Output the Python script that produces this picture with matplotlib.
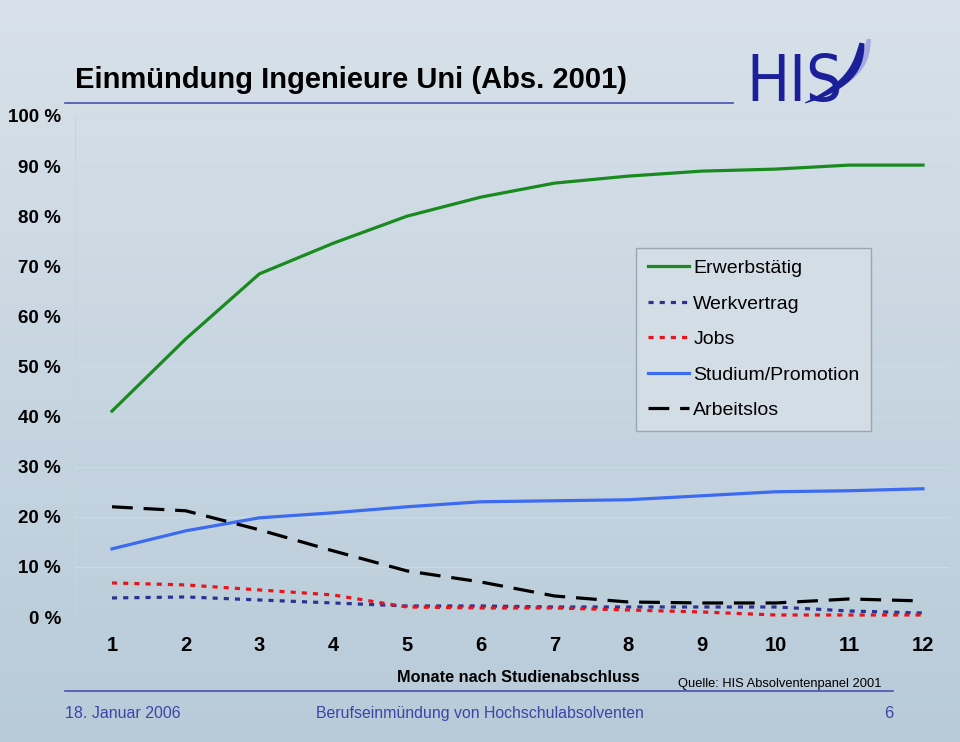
import numpy as np
import matplotlib.pyplot as plt
from matplotlib.lines import Line2D
from matplotlib.patches import Polygon

# data (percent of graduates)
months = np.arange(1, 13)
erwerbstaetig = [41.1, 55.5, 68.5, 74.6, 80.0, 83.8, 86.6, 88.0, 89.0, 89.4, 90.2, 90.2]
werkvertrag = [3.8, 4.0, 3.4, 2.8, 2.2, 2.2, 2.0, 2.0, 2.0, 2.0, 1.2, 0.8]
jobs = [6.8, 6.4, 5.4, 4.4, 2.0, 1.8, 1.8, 1.4, 1.0, 0.4, 0.4, 0.4]
studium = [13.6, 17.2, 19.8, 20.8, 22.0, 23.0, 23.2, 23.4, 24.2, 25.0, 25.2, 25.6]
arbeitslos = [22.0, 21.2, 17.4, 13.2, 9.2, 7.0, 4.2, 3.0, 2.8, 2.8, 3.6, 3.2]
yticks = list(range(0, 101, 10))

REG = ['Liberation Sans', 'DejaVu Sans']
FOOT = '#3d44a8'
W, H = 960, 742

fig = plt.figure(figsize=(9.6, 7.42), dpi=100)

# background gradient
bg = fig.add_axes([0, 0, 1, 1], zorder=-10)
top = np.array([216, 225, 233]) / 255
bot = np.array([184, 203, 217]) / 255
t = np.linspace(0, 1, 256)[:, None]
grad = (top * (1 - t) + bot * t)[:, None, :]
bg.imshow(grad, aspect='auto', extent=[0, 1, 0, 1])
bg.axis('off')

ax = fig.add_axes([75 / W, (H - 617) / H, 875 / W, 501 / H])
ax.set_facecolor('none')
ax.set_xlim(1 - 37 / 73.73, 12 + 27 / 73.73)
ax.set_ylim(0, 100)
for s in ax.spines.values():
    s.set_visible(False)
ax.axvline(ax.get_xlim()[0], color='#c8d3dc', lw=0.8, zorder=0)
for v in yticks:
    ax.axhline(v, color='#d0dae2', lw=0.7, zorder=0)

lw = 2.3
ax.plot(months, erwerbstaetig, color='#188a1e', lw=lw, label='Erwerbstätig', clip_on=False)
ax.plot(months, werkvertrag, color='#2e3192', lw=lw, ls=(0, (1.6, 1.9)),
        dash_capstyle='butt', label='Werkvertrag', clip_on=False)
ax.plot(months, jobs, color='#e8141c', lw=lw, ls=(0, (1.6, 1.9)),
        dash_capstyle='butt', label='Jobs', clip_on=False)
ax.plot(months, studium, color='#3b6bf0', lw=lw, label='Studium/Promotion', clip_on=False)
ax.plot(months, arbeitslos, color='black', lw=lw, ls=(0, (6.5, 3.4)),
        label='Arbeitslos', clip_on=False)

ax.set_yticks(yticks)
ax.set_yticklabels([f'{v} %' for v in yticks], family=REG, fontsize=13.5, fontweight='bold')
ax.set_xticks(months)
ax.set_xticklabels([str(m) for m in months], family=REG, fontsize=14.5, fontweight='bold')
ax.tick_params(axis='both', length=0)
ax.tick_params(axis='y', pad=10)
ax.tick_params(axis='x', pad=14)

leg = ax.legend(loc='upper left', bbox_to_anchor=((636 - 75) / 875, (617 - 248) / 501),
                prop={'family': REG, 'size': 14}, frameon=True, fancybox=False,
                handlelength=2.1, handletextpad=0.25, labelspacing=0.92,
                borderpad=0.6, borderaxespad=0)
leg.get_frame().set_facecolor('#d3dde5')
leg.get_frame().set_edgecolor('#9aa6b0')
leg.get_frame().set_alpha(1)

# header
fig.text(75 / W, 1 - 88 / H, 'Einmündung Ingenieure Uni (Abs. 2001)',
         family=REG, fontsize=21, fontweight='bold', va='baseline')
fig.add_artist(Line2D([65 / W, 733 / W], [1 - 103 / H] * 2, color='#4850b0', lw=1.2))
fig.text(746 / W, 1 - 101 / H, 'HIS', family='DejaVu Sans', fontstretch='condensed',
         fontsize=46, color='#1b1f9a', va='baseline')


# tapered swoosh of the logo, drawn in pixel coordinates
def swoosh(x0, y0, width, color, alpha=1.0):
    th = np.linspace(0, 1, 80)
    sx = x0 - 10 * th - 47 * th ** 3
    sy = y0 + 60 * th
    dx, dy = np.gradient(sx), np.gradient(sy)
    n = np.hypot(dx, dy)
    nx, ny = -dy / n, dx / n
    half = width * np.sin(np.pi * (0.15 + 0.85 * th)) ** 0.8 + 0.4
    left = np.column_stack([sx + nx * half, sy + ny * half])
    right = np.column_stack([sx - nx * half, sy - ny * half])
    pts = np.vstack([left, right[::-1]])
    pts = np.column_stack([pts[:, 0] / W, 1 - pts[:, 1] / H])
    fig.add_artist(Polygon(pts, closed=True, facecolor=color, edgecolor='none', alpha=alpha))


swoosh(869, 39, 3.0, '#9a9ee0', 0.8)
swoosh(862, 43, 4.0, '#1b1f9a')

# footer
fig.text(518 / W, 1 - 682 / H, 'Monate nach Studienabschluss', family=REG,
         fontsize=11.7, fontweight='bold', ha='center', va='baseline')
fig.text(780 / W, 1 - 687 / H, 'Quelle: HIS Absolventenpanel 2001', family=REG,
         fontsize=9.3, ha='center', va='baseline')
fig.add_artist(Line2D([65 / W, 893 / W], [1 - 691 / H] * 2, color='#4850b0', lw=1.2))
fig.text(65 / W, 1 - 718 / H, '18. Januar 2006', family=REG, fontsize=11.5,
         color=FOOT, va='baseline')
fig.text(480 / W, 1 - 718 / H, 'Berufseinmündung von Hochschulabsolventen',
         family=REG, fontsize=11.4, color=FOOT, ha='center', va='baseline')
fig.text(893 / W, 1 - 718 / H, '6', family=REG, fontsize=12, color=FOOT,
         ha='right', va='baseline')

fig.savefig('out.png', dpi=100)
